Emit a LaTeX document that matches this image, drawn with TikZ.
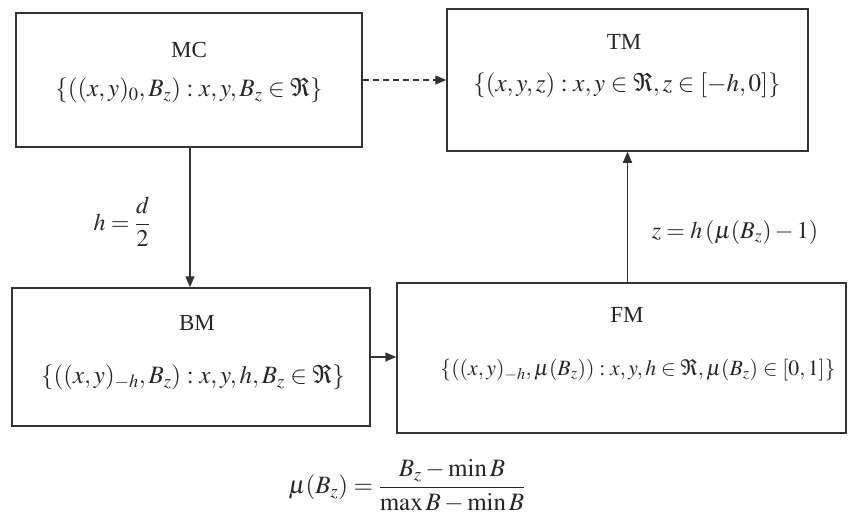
\documentclass[tikz,border=0pt]{standalone}
\usepackage{amsmath}
\usepackage{mathptmx}
\usepackage[no-math]{fontspec}
\setmainfont{Liberation Serif}
\usetikzlibrary{arrows.meta}
\tikzset{
  box/.style={draw=black!80, line width=1.5pt, rectangle, inner sep=0pt},
  ttl/.style={font=\fontsize{23}{27}\selectfont, inner sep=0pt, text=black!85},
  frm/.style={font=\fontsize{#1}{28}\selectfont, inner sep=0pt, text=black!85},
  frm/.default=24,
  conn/.style={draw=black!80, line width=1.5pt, -{Triangle[length=11pt,width=9pt]}},
}
\begin{document}
\begin{tikzpicture}[x=1pt,y=1pt]
\useasboundingbox (0,0) rectangle (849,-522);
% boxes
\node[box, minimum width=346pt, minimum height=134pt] (mc) at (189,-80) {};
\node[box, minimum width=361pt, minimum height=142pt] (tm) at (627.5,-80) {};
\node[box, minimum width=358pt, minimum height=138pt] (bm) at (191,-357) {};
\node[box, minimum width=449pt, minimum height=150pt] (fm) at (621.5,-358) {};
\coordinate (vx) at (190,0);
% titles
\node[ttl] (mct) at (189,-50) {MC};
\node[ttl] (tmt) at (624,-42) {TM};
\node[ttl] (bmt) at (197,-323) {BM};
\node[ttl] (fmt) at (627,-315) {FM};
% formulas
\node[frm=25] (mcf) at (189,-90) {$\left\{\left((x,y)_0, B_z\right): x,y,B_z \in \Re\right\}$};
\node[frm=25] (tmf) at (627,-85) {$\left\{\left(x,y,z\right): x,y \in \Re, z \in \left[-h,0\right]\right\}$};
\node[frm=25] (bmf) at (193,-377) {$\left\{\left((x,y)_{-h}, B_z\right): x,y,h,B_z \in \Re\right\}$};
\node[frm=21.8] (fmf) at (638,-370) {$\left\{\left((x,y)_{-h}, \mu(B_z)\right): x,y,h \in \Re, \mu(B_z) \in \left[0,1\right]\right\}$};
% connectors
\draw[conn, dashed, dash pattern=on 6pt off 4pt] (mc.east) -- (tm.west);
\draw[conn] (mc.south -| vx) -- (vx |- bm.north);
\draw[conn] (bm.east) -- (bm.east -| fm.west);
\draw[conn] (tm.south |- fm.north) -- (tm.south);
% labels
\node[frm=24] (lh) at (122,-222) {$h=\dfrac{d}{2}$};
\node[frm=24] (lz) at (735,-232) {$z=h\left(\mu(B_z)-1\right)$};
\node[frm=25] (lmu) at (407,-486) {$\mu(B_z)=\dfrac{B_z-\min B}{\max B-\min B}$};
\end{tikzpicture}
\end{document}
